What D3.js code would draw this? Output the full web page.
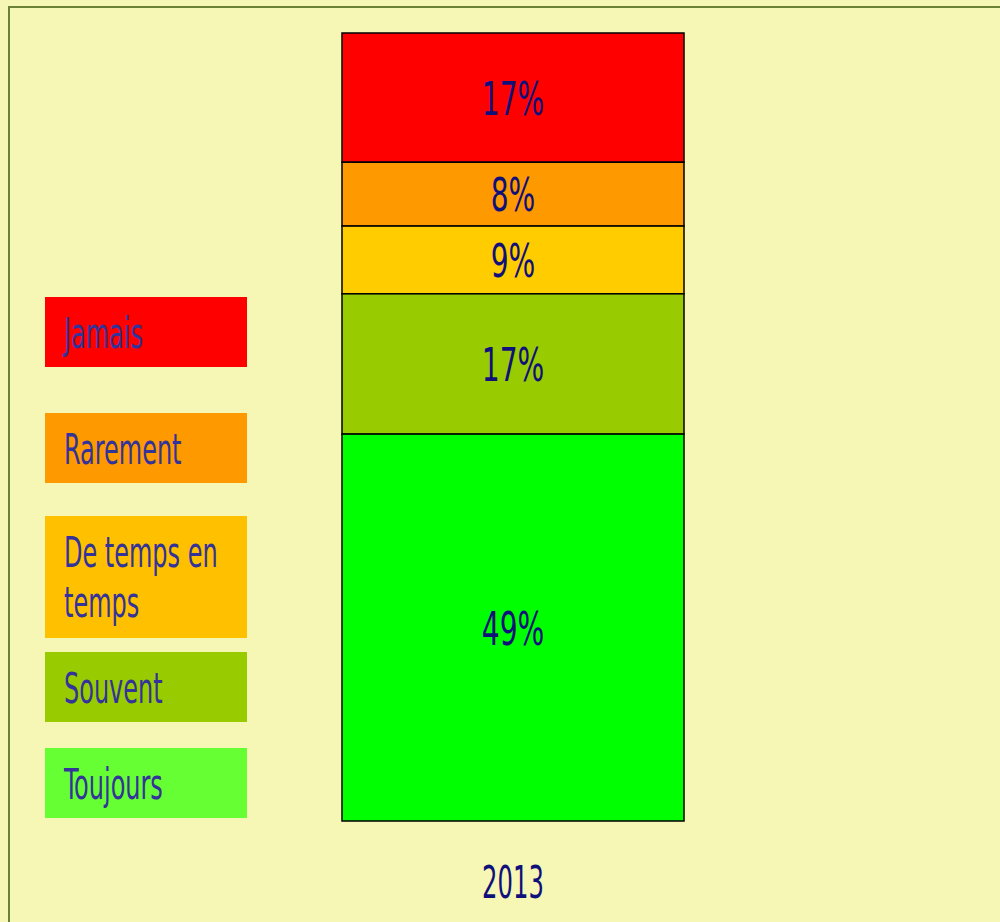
<!DOCTYPE html>
<html>
<head>
<meta charset="utf-8">
<script src="https://cdn.jsdelivr.net/npm/d3@7"></script>
<style>
  html, body { margin: 0; padding: 0; background: #f6f7b4; }
  svg { display: block; }
</style>
</head>
<body>
<svg id="chart" width="1000" height="922"></svg>
<script>
// data ---------------------------------------------------------------
const categories = ['Jamais', 'Rarement', 'De temps en temps', 'Souvent', 'Toujours'];
const years = ['2013'];
// share of each answer as drawn (bar heights), top to bottom
const shares2013 = [16.4, 8.1, 8.6, 17.8, 49.1];
const valueLabels2013 = ['17%', '8%', '9%', '17%', '49%'];
const barColors = ['#ff0000', '#ff9900', '#ffcc00', '#99cc00', '#00ff00'];
const legendColors = ['#ff0000', '#ff9900', '#ffc000', '#99cc00', '#66ff33'];
const legendLines = [['Jamais'], ['Rarement'], ['De temps en', 'temps'], ['Souvent'], ['Toujours']];

// layout ---------------------------------------------------------------
const W = 1000, H = 922;
const plotTop = 33, plotBottom = 821;
const legendTops = [297, 413, 516, 652, 748];
const SX = 0.62; // horizontal squeeze to imitate the narrow face
const FONT = "'DejaVu Sans Condensed', 'DejaVu Sans', sans-serif";

const svg = d3.select('#chart');

svg.append('rect')
  .attr('width', W).attr('height', H)
  .attr('fill', '#f6f7b4');

// frame, runs off the right and bottom edges
svg.append('rect')
  .attr('x', 9).attr('y', 7)
  .attr('width', 1200).attr('height', 1200)
  .attr('fill', 'none')
  .attr('stroke', '#6b8236')
  .attr('stroke-width', 2);

const x = d3.scaleBand().domain(years).range([342, 684]).padding(0);
const y = d3.scaleLinear().domain([0, d3.sum(shares2013)]).range([plotTop, plotBottom]);

// stack top-down
let acc = 0;
const segs = shares2013.map((v, i) => {
  const s = { key: categories[i], y0: acc, y1: acc + v, label: valueLabels2013[i], color: barColors[i] };
  acc += v;
  return s;
});

function squeezed(sel, tx, ty, txt, opts) {
  const g = sel.append('g').attr('transform', `translate(${tx},${ty}) scale(${opts.sx || SX},1)`);
  g.append('text')
    .attr('x', 0).attr('y', 0)
    .attr('text-anchor', opts.anchor || 'start')
    .attr('font-family', FONT)
    .attr('font-size', opts.size)
    .attr('fill', opts.color)
    .text(txt);
  return g;
}

const bar = svg.append('g').attr('class', 'bar');

bar.selectAll('rect')
  .data(segs)
  .enter()
  .append('rect')
  .attr('x', x('2013'))
  .attr('y', (d) => y(d.y0))
  .attr('width', x.bandwidth())
  .attr('height', (d) => y(d.y1) - y(d.y0))
  .attr('fill', (d) => d.color)
  .attr('stroke', '#000')
  .attr('stroke-width', 1.5);

segs.forEach((d) => {
  const cy = (y(d.y0) + y(d.y1)) / 2;
  squeezed(bar, x('2013') + x.bandwidth() / 2, cy + 17, d.label, { size: 46, color: '#10107a', anchor: 'middle', sx: 0.68 });
});

// category axis label
squeezed(svg, x('2013') + x.bandwidth() / 2, 898, years[0], { size: 45, color: '#10107a', anchor: 'middle', sx: 0.6 });

// legend
const legend = svg.append('g').attr('class', 'legend');
legendLines.forEach((lines, i) => {
  const top = legendTops[i];
  const h = 70 + (lines.length - 1) * 52;
  legend.append('rect')
    .attr('x', 45).attr('y', top)
    .attr('width', 202).attr('height', h)
    .attr('fill', legendColors[i]);
  lines.forEach((ln, j) => {
    squeezed(legend, 64, top + 51 + j * 50, ln, { size: 43, color: '#333399' });
  });
});
</script>
</body>
</html>
